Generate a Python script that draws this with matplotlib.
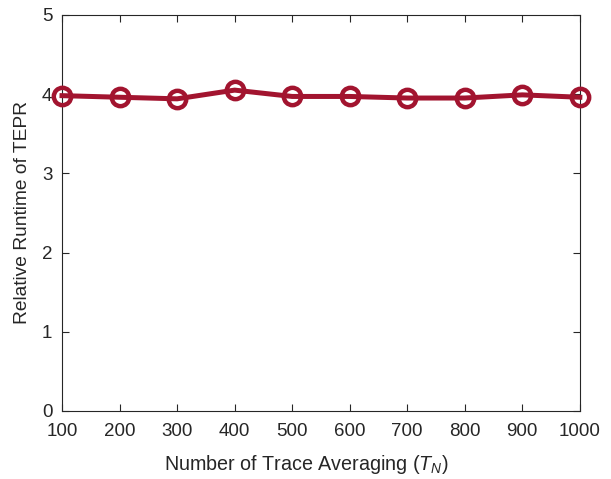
import matplotlib
matplotlib.use("Agg")
import matplotlib.pyplot as plt

# data
trace_avg = [100, 200, 300, 400, 500, 600, 700, 800, 900, 1000]
rel_runtime = [3.98, 3.96, 3.94, 4.05, 3.97, 3.97, 3.95, 3.95, 3.99, 3.96]
y_ticks = [0, 1, 2, 3, 4, 5]

plt.rcParams['font.family'] = ['Liberation Sans', 'DejaVu Sans']
plt.rcParams['mathtext.fontset'] = 'custom'
plt.rcParams['mathtext.it'] = 'Liberation Sans:italic'
plt.rcParams['mathtext.rm'] = 'Liberation Sans'

fig = plt.figure(figsize=(6.11, 4.79), dpi=100)
ax = fig.add_axes([0.1015, 0.142, 0.8475, 0.827])

col = '#A2142F'
ax.plot(trace_avg, rel_runtime, color=col, lw=3.6, marker='o', ms=12.5,
        mfc='none', mec=col, mew=3.2, clip_on=False, zorder=3)

ax.set_xlim(100, 1000)
ax.set_ylim(0, 5)
ax.set_xticks(trace_avg)
ax.set_yticks(y_ticks)

axc = '#262626'
for s in ax.spines.values():
    s.set_color(axc)
    s.set_linewidth(0.8)
ax.tick_params(direction='in', length=5, width=0.8, colors=axc,
               labelsize=13.5, top=True, right=True)
ax.tick_params(axis='x', pad=9)
ax.tick_params(axis='y', pad=7)

ax.set_xlabel('Number of Trace Averaging ($T_N$)', fontsize=14.2, color=axc)
ax.xaxis.set_label_coords(0.472, -0.105)
ax.set_ylabel('Relative Runtime of TEPR', fontsize=13.8, color=axc, labelpad=8)

fig.savefig('out.png', dpi=100)
